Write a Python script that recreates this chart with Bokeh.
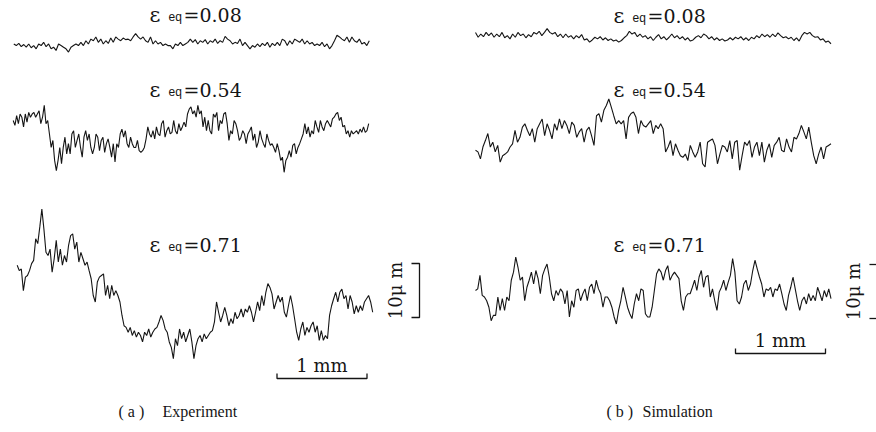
import numpy as np
from bokeh.plotting import figure
from bokeh.models import Range1d
from bokeh.embed import file_html
from bokeh.resources import INLINE
from bokeh.core.properties import value

# ---------------------------------------------------------------------------
# Surface-roughness profiles (height in µm, uniformly sampled along the trace)
# ---------------------------------------------------------------------------
strain_values = ["0.08", "0.54", "0.71"]
panel_tags = ["( a )", "( b )"]
panel_names = ["Experiment", "Simulation"]

trace_length_mm = 3.95
scale_bar_mm = 1.0
scale_bar_um = 10.0

exp_008 = [
    0.1, -0.2, 0.2, -0.4, 0.0, -0.5, 0.1, -0.6, -0.2, -0.8,
    0.1, -0.2, 0.4, -0.4, 0.1, -0.8, -0.5, -1.1, 0.1, -0.2,
    -0.5, -0.8, -1.4, -0.5, -0.2, 0.1, -0.2, 0.4, -0.2, 0.7,
    0.1, 1.0, 0.7, 1.4, 0.4, 1.0, 0.1, 0.7, 0.2, 1.2,
    0.4, 1.4, 1.0, 0.7, 1.2, 0.9, 1.0, 0.7, 1.4, 2.0,
    1.4, 1.0, 1.4, 0.7, 0.4, 1.4, 0.1, 0.7, 0.1, 0.4,
    -0.2, 0.1, -0.2, -0.2, -0.8, 0.1, -0.2, 0.4, -0.2, 0.1, 0.4,
    1.0, 0.4, 0.9, 0.1, 0.7, 0.4, 0.9, 0.1, 0.7, 0.4,
    1.0, 0.2, 0.7, 0.4, 1.5, 1.0, 0.7, 0.1, 0.4, 0.2,
    1.0, -0.2, 0.4, -0.2, -0.8, -0.2, -0.5, 0.1, -0.4, 0.2,
    -0.2, 0.4, -0.5, 0.2, -0.2, 0.4, -0.2, 1.0, 0.7, -0.2,
    0.7, 0.1, 1.0, 0.7, 0.4, 1.0, 0.1, 0.7, 0.1, 0.4,
    -0.2, 0.1, -0.2, 0.4, -0.4, 0.1, -0.8, -0.2, 0.7, 1.7,
    1.4, 1.0, 0.7, 1.4, 0.4, 1.4, 0.7, 0.4, 1.0, 0.1,
    0.4, -0.2, 0.7,
]

exp_054 = [
    3.1, 2.2, 4.0, 2.5, 4.3, 3.7, 1.9, 4.3, 2.8, 4.6,
    3.7, 4.3, 4.6, 3.7, 4.3, 4.9, 2.5, 3.7, 5.9, 2.5,
    3.1, 0.6, -1.9, -0.6, -4.3, -6.2, -4.3, -1.9, -4.9, -1.9,
    0.0, -3.1, -1.2, -3.1, 0.6, 1.2, -1.9, -0.6, 0.6, -1.9,
    -3.7, 0.0, 1.2, -0.6, 0.6, -1.9, -3.1, -1.9, 0.6, 0.0,
    -2.5, -0.6, 0.0, -2.8, -1.2, -0.3, -1.9, -3.7, -1.2, -4.6,
    -1.2, -1.9, 0.6, 1.5, 0.0, 1.2, -1.2, -1.9, 0.0, -1.2,
    -1.9, -1.9, -0.6, -2.5, -2.8, -2.5, -1.9, -0.3, 1.9, 0.6,
    0.0, 1.2, -0.3, 1.9, 0.6, 0.3, 2.5, 3.1, 0.0, 1.2,
    1.9, 0.6, 0.9, 3.1, 1.2, 0.6, 2.5, 1.2, 1.9, 2.8,
    1.9, 4.3, 5.2, 5.6, 4.3, 4.9, 3.7, 5.9, 4.3, 4.9,
    1.9, 3.7, 1.2, 3.1, 1.2, 0.6, 4.3, 3.7, 4.6, 1.2,
    3.1, 2.5, 4.3, 4.6, 2.5, -0.6, 1.2, 0.6, 3.1, 2.5,
    1.2, -0.6, 0.0, 1.2, 0.6, -1.2, 0.6, 1.2, 1.9, -0.6,
    0.6, -1.9, -0.9, 1.2, -0.3, -1.2, -1.9, 0.6, -0.6, -1.5,
    -1.2, -1.9, -2.8, -1.2, -2.5, -4.3, -3.7, -6.5, -4.3, -3.7,
    -2.5, -3.7, -1.5, -1.2, -3.1, -1.9, -1.2, -0.3, 0.6, 2.5,
    0.6, 1.9, 0.0, 1.2, 0.6, 3.1, 1.9, 0.9, 3.1, 1.9,
    1.2, 2.5, 3.1, 2.5, 1.9, 3.4, 3.7, 4.3, 4.6, 3.1,
    3.7, 1.9, 2.2, 0.6, 1.2, 0.0, 1.2, 0.6, 0.9, 1.2,
    0.6, 1.5, 0.9, 1.9, 0.9, 1.2, 2.5,
]

exp_071 = [
    5.6, 4.6, 4.9, 0.9, 3.4, 3.7, 4.6, 5.9, 6.5, 10.5,
    9.6, 12.7, 16.0, 12.3, 8.0, 7.4, 8.6, 4.3, 6.8, 10.2,
    6.2, 8.6, 5.6, 7.4, 6.2, 9.3, 11.1, 11.4, 8.6, 9.9,
    6.2, 8.0, 6.8, 5.6, 6.2, 4.6, 3.1, 0.0, -1.2, 2.5,
    3.4, 3.7, 4.0, 0.0, 1.9, -0.6, 1.9, 0.0, 0.9, 0.0,
    -1.2, -3.7, -5.6, -5.9, -6.8, -5.9, -7.4, -6.5, -7.7, -6.8,
    -7.4, -8.6, -6.8, -7.4, -6.2, -7.7, -6.8, -6.2, -5.9, -4.9,
    -3.7, -4.6, -6.2, -6.8, -8.6, -9.6, -11.7, -8.0, -9.3, -6.2,
    -8.0, -6.8, -8.6, -7.4, -6.2, -8.6, -11.7, -9.3, -8.0, -7.4,
    -8.6, -7.1, -8.0, -7.4, -6.8, -6.5, -4.9, -1.2, -3.1, -4.9,
    -3.7, -2.2, -3.7, -5.6, -4.3, -5.2, -3.1, -4.3, -3.7, -2.5,
    -4.0, -2.5, -3.1, -1.9, -3.1, -4.9, -3.1, -1.2, -2.8, 0.0,
    -1.9, 0.6, 2.2, 1.5, 0.3, -2.5, -1.2, 0.0, -1.2, -0.3,
    -3.1, -4.0, -1.9, 0.0, -1.9, -4.3, -6.8, -8.3, -6.2, -4.9,
    -7.4, -5.9, -6.8, -5.6, -4.9, -6.8, -5.6, -8.3, -6.5, -8.3,
    -7.4, -8.0, -3.7, -1.9, -0.6, 0.6, -1.2, 0.6, 1.2, -0.6,
    0.0, -2.5, 0.0, -1.2, -3.4, -1.9, -3.1, -1.9, -2.8, -1.2,
    -0.6, 0.0, -1.2, -3.1,
]

sim_008 = [
    1.5, 0.6, 1.2, 0.7, 1.5, 0.9, 1.4, 0.6, 1.2, 0.7,
    1.5, 0.5, 0.9, 0.3, 1.2, 0.6, 1.5, 0.9, 1.2, 0.5,
    1.1, 0.7, 1.5, 1.2, 1.7, 0.9, 1.5, 2.2, 1.5, 1.2,
    1.5, 0.7, 1.2, 0.5, 1.2, 0.6, 0.9, 0.3, 0.9, 0.5,
    1.1, 0.1, 0.3, -0.3, 0.1, 0.6, 0.3, 0.7, 0.1, 0.5,
    0.0, 0.3, -0.1, 0.1, -0.3, 0.0, 0.5, 0.9, 1.7, 1.2,
    1.5, 0.7, 1.2, 0.6, 0.9, 0.3, 0.7, 0.0, 0.6, 1.1,
    0.3, 0.7, 0.1, 0.6, 1.2, 0.5, 0.9, 0.3, 0.7, 0.1,
    0.5, -0.1, 0.1, 0.6, 0.9, 0.5, 1.2, 0.9, 0.3, 0.7,
    0.1, 0.5, 0.0, 0.3, -0.1, 0.1, 0.5, 0.1, 0.6, 0.3,
    0.7, 0.1, 0.5, 0.0, 0.6, 0.3, 0.9, 0.5, 1.2, 0.7,
    1.1, 0.6, 1.2, 0.7, 1.4, 0.9, 0.5, 0.7, 0.3, 0.6,
    0.0, 0.5, -0.1, 0.9, 1.5, 1.2, 1.5, 0.9, 0.6, 0.7,
    0.1, 0.3, -0.3, -0.1, -0.6,
]

sim_054 = [
    -1.2, -1.5, -2.8, -0.6, 0.6, 1.9, -0.6, 0.3, -1.5, -0.3,
    -3.4, -2.2, -1.9, -1.5, -0.6, 0.0, 2.5, 0.3, 1.2, 3.1,
    3.7, 2.5, 1.5, 2.8, 0.3, 2.8, 3.7, 4.6, 1.5, 3.7,
    2.5, 0.9, 3.7, 2.5, 4.6, 2.8, 4.3, 3.4, 1.9, 4.0,
    3.4, 1.2, 2.2, 2.8, 0.3, 2.5, 3.1, 1.5, -0.3, 5.2,
    5.6, 4.0, 6.2, 7.1, 8.3, 6.8, 5.2, 3.7, 4.3, 3.7,
    4.3, 0.9, 4.9, 5.6, 5.9, 4.9, 1.9, 4.3, 3.4, 3.1,
    3.7, 4.3, 1.9, 3.4, 2.8, 3.7, 2.8, -1.5, -0.6, 0.6,
    -2.2, 0.0, -1.2, -2.2, -2.5, -1.9, -3.1, -0.3, -1.5, -2.5,
    -1.5, 0.3, -3.7, -4.3, 0.3, 0.6, 0.9, -0.3, -3.7, -1.9,
    -0.3, -0.6, -1.5, 0.6, -2.8, 0.3, 0.6, -4.9, -2.2, 0.3,
    -0.3, 0.6, -2.5, -0.6, 0.3, -2.2, 0.3, -3.4, -1.2, 0.0,
    -2.5, -0.3, 0.3, 1.2, -1.2, -1.5, 0.9, -0.6, -1.5, 1.2,
    0.9, 1.9, 3.4, 2.2, 0.9, 3.1, 0.3, -2.2, -3.7, -1.9,
    -0.6, -2.8, -0.6, -0.3, 0.0,
]

sim_071 = [
    0.0, 0.3, 2.8, -0.9, -1.2, -1.9, -3.1, -5.6, -4.6, -4.6,
    -1.2, -3.7, -1.5, -3.7, -1.2, -1.9, 1.9, 3.4, 6.2, 4.3,
    1.9, 2.5, -1.9, 0.6, 1.9, 3.4, 1.2, 3.7, 2.2, -0.6,
    2.8, 4.0, 4.9, 2.5, -0.6, -1.9, 0.0, -0.9, 0.3, -0.3,
    -2.5, 0.0, -4.9, -1.9, -3.1, 0.0, 0.3, -1.9, -0.6, 0.3,
    -1.9, 0.6, 1.2, -0.6, 1.9, 0.3, -0.6, -3.1, -1.2, -1.2,
    -1.9, -3.1, -4.9, -6.2, -3.7, -1.9, 0.6, -1.2, -3.1, -4.3,
    -5.2, -2.5, -0.6, -1.9, 0.3, 0.0, -4.3, -4.9, -4.9, -3.1,
    0.0, 3.1, 4.0, 3.4, 1.9, 3.7, 4.6, 1.9, 2.8, 3.4,
    2.8, 2.2, -1.9, -3.7, -1.2, -0.6, -0.6, 0.6, 1.9, 0.0,
    2.5, 3.7, 0.6, 2.5, 2.8, -1.2, 0.3, -1.9, -3.7, -0.3,
    0.6, 1.9, 0.0, 1.5, 2.8, 5.9, 3.4, -1.9, -2.5, -1.2,
    1.2, 1.9, 0.0, 1.2, 3.7, 5.6, 4.0, 2.5, 1.2, -1.2,
    0.3, 0.0, 0.6, -1.2, 0.3, 0.0, 1.2, -0.6, -2.5, -3.7,
    -0.9, 0.6, 2.5, 0.3, -1.9, -3.7, -1.9, -1.2, -2.5, -0.6,
    -1.9, -0.9, -1.9, 0.6, -0.6, -1.9, 0.0, -1.2, 0.3, -1.5,
]

experiment = [exp_008, exp_054, exp_071]
simulation = [sim_008, sim_054, sim_071]

# ---------------------------------------------------------------------------
# Page geometry: the canvas is laid out in physical units of the traces
# (90 px per mm horizontally, 5.4 px per µm vertically).
# ---------------------------------------------------------------------------
W, H = 876, 432
PX_PER_MM, PX_PER_UM = 90.0, 5.4


def mm(px):
    return px / PX_PER_MM


def um(py):
    return -py / PX_PER_UM


p = figure(width=W, height=H, output_backend="svg", toolbar_location=None,
           x_range=Range1d(0, mm(W)), y_range=Range1d(um(H), 0),
           min_border=0)
p.axis.visible = False
p.grid.visible = False
p.outline_line_color = None
p.background_fill_color = "white"
p.border_fill_color = "white"

INK = "#151515"
SERIF = value("DejaVu Serif")
SANS = value("Liberation Sans")
CAPTION = value("Liberation Serif")

# trace placement per panel: left end (px) and mean level (px)
panels = [
    dict(series=experiment, x0=[13.3, 12.7, 16.7], y0=[44.0, 136.7, 295.0],
         label_x=149, label_y=[14, 89, 244]),
    dict(series=simulation, x0=[475.0, 475.0, 475.0], y0=[40.0, 143.3, 290.0],
         label_x=613, label_y=[15, 89, 244]),
]

for panel in panels:
    for heights, x0, y0, lab_y, strain in zip(panel["series"], panel["x0"],
                                              panel["y0"], panel["label_y"],
                                              strain_values):
        h = np.asarray(heights)
        xs = mm(x0) + np.linspace(0.0, trace_length_mm, len(h))
        ys = um(y0) + h
        p.line(xs, ys, line_color=INK, line_width=1.1)

        lx = panel["label_x"]
        p.text(x=[mm(lx)], y=[um(lab_y)], text=["ε"], text_font=SERIF,
               text_font_size="21px", text_color=INK,
               text_baseline="alphabetic", text_align="left")
        p.text(x=[mm(lx + 19)], y=[um(lab_y + 2)], text=["eq"], text_font=SANS,
               text_font_size="12px", text_color=INK,
               text_baseline="alphabetic", text_align="left")
        p.text(x=[mm(lx + 34)], y=[um(lab_y)], text=["=" + strain],
               text_font=SERIF, text_font_size="19px", text_color=INK,
               text_baseline="alphabetic", text_align="left")

# ---- horizontal 1 mm scale bars ----
for bar_x0, bar_y, tick in [(276.5, 378.0, 5.0), (735.0, 353.0, 5.0)]:
    x_a = mm(bar_x0)
    x_b = x_a + scale_bar_mm
    y_b = um(bar_y)
    y_t = y_b + tick / PX_PER_UM
    p.line([x_a, x_a, x_b, x_b], [y_t, y_b, y_b, y_t], line_color=INK,
           line_width=1.3)
    p.text(x=[(x_a + x_b) / 2], y=[y_b + 13.0 / PX_PER_UM], text=["1 mm"],
           text_font=SERIF, text_font_size="18px", text_color=INK,
           text_baseline="alphabetic", text_align="center")

# ---- vertical 10 µm scale: bracket in (a), tick marks in (b) ----
top_a = um(263.0)
bot_a = top_a - scale_bar_um
p.line([mm(411), mm(419), mm(419), mm(411)], [top_a, top_a, bot_a, bot_a],
       line_color=INK, line_width=1.3)
top_b = um(264.0)
bot_b = top_b - scale_bar_um
for yy in (top_b, bot_b):
    p.line([mm(869), mm(876)], [yy, yy], line_color=INK, line_width=1.3)

for cx, top in [(395, top_a), (853, top_b)]:
    p.text(x=[mm(cx)], y=[top - scale_bar_um / 2], text=["10μ m"],
           angle=np.pi / 2, text_font=SERIF, text_font_size="18px",
           text_color=INK, text_baseline="middle", text_align="center")

# ---- panel captions ----
for tag, name, tx, nx in zip(panel_tags, panel_names, [118, 606], [162, 642]):
    p.text(x=[mm(tx)], y=[um(411)], text=[tag], text_font=CAPTION,
           text_font_size="16px", text_color=INK, text_baseline="alphabetic",
           text_align="left")
    p.text(x=[mm(nx)], y=[um(411)], text=[name], text_font=CAPTION,
           text_font_size="16px", text_color=INK, text_baseline="alphabetic",
           text_align="left")

open("out.html", "w").write(file_html(p, INLINE))
